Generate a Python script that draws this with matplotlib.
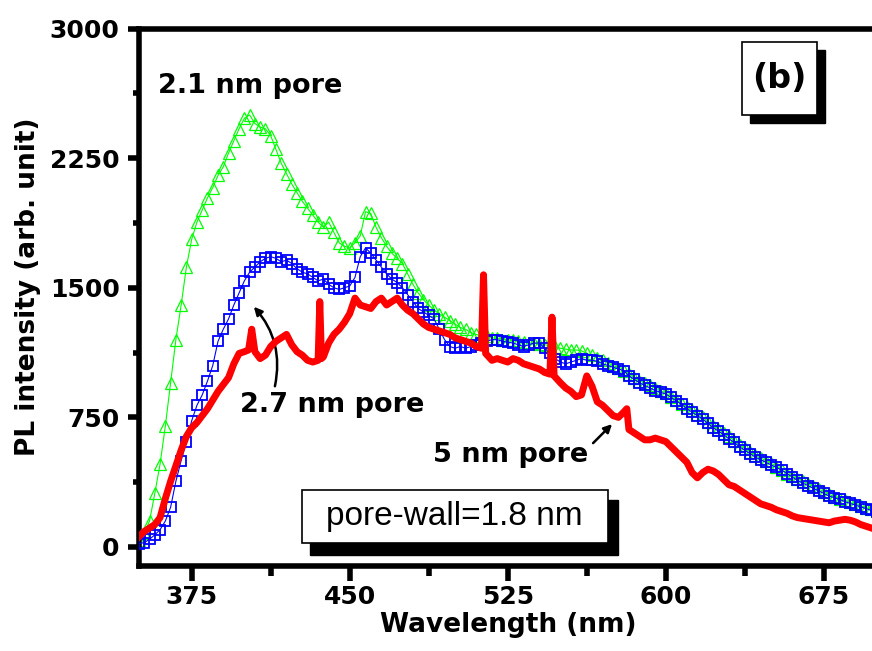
import numpy as np
import matplotlib
matplotlib.use('Agg')
import matplotlib.pyplot as plt
from matplotlib.patches import Rectangle

plt.rcParams['font.family'] = ['DejaVu Sans']
plt.rcParams['font.weight'] = 'bold'

# wavelength grid (nm) for the two marker series
wl = np.arange(350, 700.1, 2.5)

# 2.1 nm pore (green triangles)
pl_21 = [40, 80, 150, 310, 480, 700, 950, 1200, 1400, 1620,
         1780, 1880, 1950, 2020, 2080, 2150, 2200, 2280, 2350, 2420,
         2480, 2500, 2450, 2430, 2420, 2380, 2300, 2220, 2160, 2100,
         2050, 2000, 1960, 1920, 1880, 1850, 1880, 1820, 1760, 1740,
         1730, 1760, 1800, 1940, 1930, 1850, 1790, 1740, 1700, 1670,
         1640, 1580, 1520, 1470, 1430, 1400, 1370, 1350, 1330, 1310,
         1290, 1270, 1260, 1240, 1230, 1220, 1220, 1210, 1210, 1200,
         1200, 1195, 1190, 1185, 1180, 1180, 1175, 1170, 1165, 1160,
         1150, 1145, 1140, 1140, 1135, 1120, 1110, 1095, 1080, 1065,
         1050, 1035, 1020, 1000, 980, 960, 950, 935, 920, 905,
         890, 870, 850, 830, 810, 790, 770, 750, 725, 700,
         680, 660, 640, 615, 590, 570, 550, 530, 515, 500,
         485, 465, 445, 425, 410, 395, 380, 365, 350, 335,
         320, 305, 290, 280, 270, 258, 248, 238, 228, 218,
         210]

# 2.7 nm pore (blue squares)
pl_27 = [20, 25, 45, 70, 100, 150, 230, 380, 500, 610,
         730, 820, 880, 960, 1050, 1190, 1260, 1320, 1400, 1470,
         1540, 1590, 1620, 1650, 1670, 1680, 1670, 1650, 1660, 1640,
         1610, 1590, 1580, 1560, 1540, 1550, 1520, 1500, 1490, 1500,
         1510, 1560, 1680, 1730, 1700, 1660, 1620, 1580, 1550, 1530,
         1500, 1460, 1420, 1380, 1360, 1340, 1320, 1260, 1200, 1160,
         1150, 1160, 1150, 1160, 1170, 1180, 1190, 1200, 1200, 1190,
         1185, 1180, 1170, 1160, 1170, 1180, 1180, 1150, 1120, 1090,
         1070, 1060, 1070, 1080, 1090, 1080, 1080, 1075, 1060, 1050,
         1040, 1030, 1020, 990, 970, 950, 935, 920, 905, 895,
         885, 865, 845, 825, 800, 780, 760, 740, 715, 690,
         670, 650, 625, 605, 580, 560, 540, 520, 505, 490,
         475, 460, 445, 425, 405, 385, 370, 355, 340, 325,
         310, 295, 285, 275, 262, 252, 242, 232, 222, 212,
         205]

# 5 nm pore (red line)
wl_5 = [350, 352.5, 355, 357.5, 360, 362.5, 365, 367.5, 370, 372.5,
        375, 377.5, 380, 382.5, 385, 387.5, 390, 392.5, 395, 397.5,
        400, 402, 403.5, 405, 407.5, 410, 412.5, 415, 417.5, 420,
        422.5, 425, 427.5, 430, 432.5, 435, 435.8, 436.6, 437.5, 440,
        442.5, 445, 447.5, 450, 452.5, 455, 457.5, 460, 462.5, 465,
        467.5, 470, 472.5, 475, 477.5, 480, 482.5, 485, 487.5, 490,
        492.5, 495, 497.5, 500, 502.5, 505, 507.5, 510, 512.5, 513.5,
        514.5, 517.5, 520, 522.5, 525, 527.5, 530, 532.5, 535, 537.5,
        540, 542.5, 545, 546, 547, 550, 552.5, 555, 557.5, 560,
        562.5, 565, 567.5, 570, 572.5, 575, 577.5, 580, 581.5, 582.5,
        585, 587.5, 590, 592.5, 595, 597.5, 600, 602.5, 605, 607.5,
        610, 612.5, 615, 617.5, 620, 622.5, 625, 627.5, 630, 632.5,
        635, 637.5, 640, 642.5, 645, 647.5, 650, 652.5, 655, 657.5,
        660, 662.5, 665, 667.5, 670, 672.5, 675, 677.5, 680, 682.5,
        685, 687.5, 690, 692.5, 695, 697.5, 700]
pl_5 = [60, 90, 110, 130, 170, 280, 380, 470, 560, 640,
        690, 720, 760, 800, 850, 900, 940, 980, 1060, 1120,
        1130, 1140, 1260, 1130, 1090, 1110, 1160, 1190, 1210, 1230,
        1170, 1130, 1110, 1080, 1070, 1080, 1420, 1090, 1100, 1180,
        1230, 1260, 1300, 1350, 1440, 1400, 1390, 1380, 1420, 1440,
        1400, 1420, 1440, 1400, 1370, 1350, 1320, 1290, 1270, 1260,
        1250, 1240, 1230, 1210, 1200, 1190, 1180, 1160, 1150, 1575,
        1120, 1080, 1090, 1080, 1070, 1090, 1080, 1060, 1050, 1040,
        1030, 1010, 1000, 1330, 990, 950, 920, 900, 870, 880,
        990, 930, 840, 820, 790, 760, 750, 780, 800, 680,
        660, 640, 620, 620, 630, 620, 610, 580, 550, 520,
        490, 430, 400, 430, 450, 440, 420, 390, 360, 350,
        330, 310, 290, 270, 250, 240, 230, 215, 205, 195,
        180, 170, 165, 160, 155, 150, 145, 140, 150, 155,
        160, 155, 145, 130, 120, 110, 100]

W, H = 872, 651


def fig_box(x0, y0, x1, y1):
    # pixel box (image coords, y down) -> figure fraction rectangle
    return (x0 / W, 1 - y1 / H), (x1 - x0) / W, (y1 - y0) / H


fig = plt.figure(figsize=(8.72, 6.51), dpi=100)
ax = fig.add_axes([139 / W, 1 - 566 / H, 737.5 / W, (566 - 28.5) / H])

ax.plot(wl, pl_21, color='#00ff00', lw=0.8, marker='^', markersize=8,
        markerfacecolor='none', markeredgecolor='#00ff00', markeredgewidth=0.9, zorder=2)
ax.plot(wl, pl_27, color='#0000ff', lw=0.8, marker='s', markersize=7,
        markerfacecolor='none', markeredgecolor='#0000ff', markeredgewidth=1.3, zorder=3)
ax.plot(wl_5, pl_5, color='#ff0000', lw=5, zorder=4)

ax.set_xlim(350, 700)
ax.set_ylim(-110, 3000)
ax.set_xticks([375, 450, 525, 600, 675])
ax.set_xticks([412.5, 487.5, 562.5, 637.5], minor=True)
ax.set_yticks([0, 750, 1500, 2250, 3000])
ax.set_yticks([375, 1125, 1875, 2625], minor=True)
ax.tick_params(axis='both', which='both', direction='out', width=4, labelsize=18)
ax.tick_params(axis='x', which='major', length=11, pad=3)
ax.tick_params(axis='x', which='minor', length=7)
ax.tick_params(axis='y', which='major', length=8, pad=6)
ax.tick_params(axis='y', which='minor', length=4.5)
for s in ['left', 'bottom', 'top']:
    ax.spines[s].set_linewidth(4)
ax.spines['right'].set_visible(False)

ax.set_xlabel('Wavelength (nm)', fontsize=19, fontweight='bold')
ax.set_ylabel('PL intensity (arb. unit)', fontsize=19, fontweight='bold')
ax.xaxis.set_label_coords(0.5, -0.085)
ax.yaxis.set_label_coords(-0.133, 0.52)

ax.text(359, 2670, '2.1 nm pore', fontsize=19.5, fontweight='bold', va='center', ha='left')
ax.text(398, 821, '2.7 nm pore', fontsize=19.5, fontweight='bold', va='center', ha='left')
ax.text(489.5, 532, '5 nm pore', fontsize=19.5, fontweight='bold', va='center', ha='left')

ax.annotate('', xy=(404.5, 1390), xytext=(414.5, 930),
            arrowprops=dict(arrowstyle='-|>', color='black', lw=1.8, mutation_scale=12,
                            connectionstyle='arc3,rad=0.25', shrinkA=0, shrinkB=0))
ax.annotate('', xy=(574.5, 711), xytext=(565.5, 601),
            arrowprops=dict(arrowstyle='-|>', color='black', lw=1.8, mutation_scale=12,
                            shrinkA=0, shrinkB=0))

# (b) label box with shadow
xy, w, h = fig_box(750, 50, 825, 123)
fig.add_artist(Rectangle(xy, w, h, transform=fig.transFigure, facecolor='black', edgecolor='black', zorder=5))
xy, w, h = fig_box(742, 42, 817, 115)
fig.add_artist(Rectangle(xy, w, h, transform=fig.transFigure, facecolor='white', edgecolor='black', lw=1.2, zorder=6))
fig.text(779.5 / W, 1 - 79 / H, '(b)', fontsize=24, fontweight='bold', ha='center', va='center', zorder=7)

# pore-wall box with shadow
xy, w, h = fig_box(310, 500, 618, 555)
fig.add_artist(Rectangle(xy, w, h, transform=fig.transFigure, facecolor='black', edgecolor='black', zorder=5))
xy, w, h = fig_box(302, 490, 608, 543)
fig.add_artist(Rectangle(xy, w, h, transform=fig.transFigure, facecolor='white', edgecolor='black', lw=1.2, zorder=6))
fig.text(454 / W, 1 - 517 / H, 'pore-wall=1.8 nm', fontsize=24, fontweight='normal',
         family=['Liberation Sans', 'DejaVu Sans'], ha='center', va='center', zorder=7)

fig.savefig('out.png', dpi=100)
